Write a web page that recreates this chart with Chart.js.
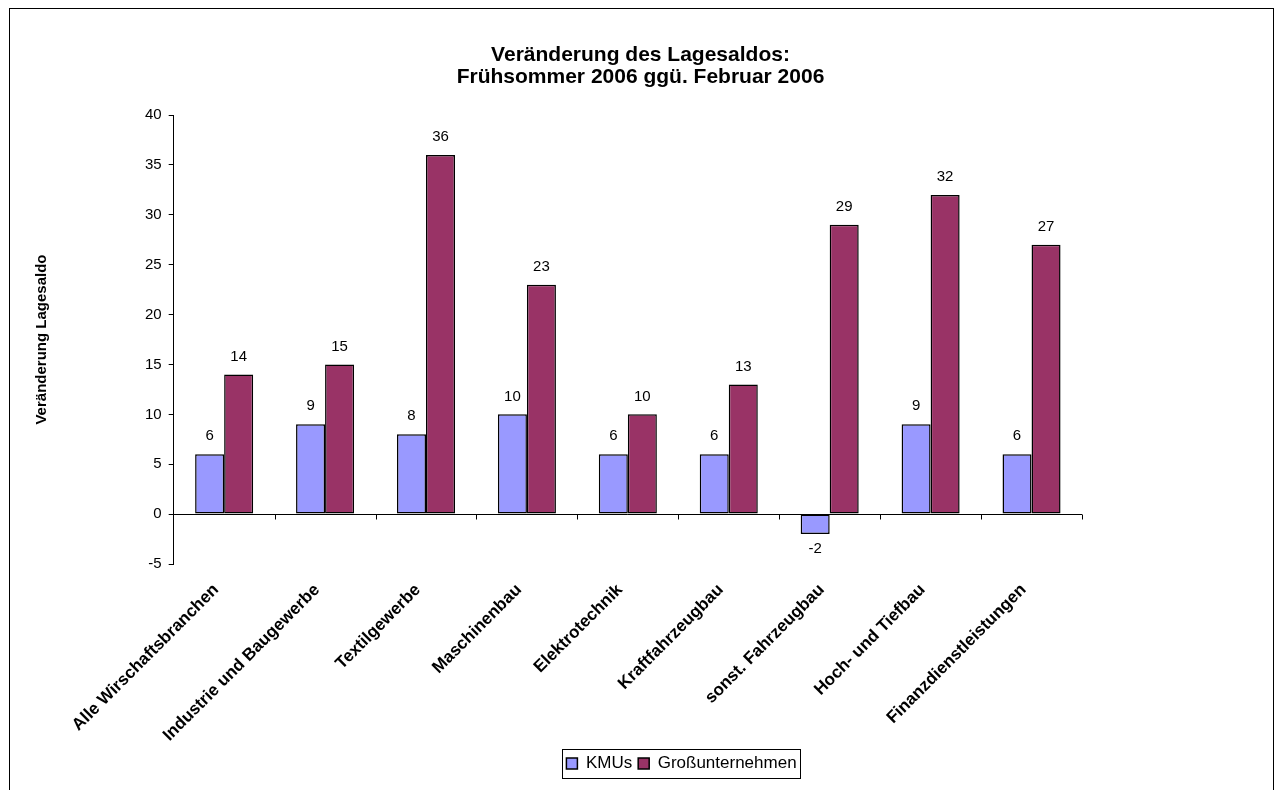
<!DOCTYPE html>
<html lang="de">
<head>
<meta charset="utf-8">
<title>Veränderung des Lagesaldos</title>
<script src="https://cdn.jsdelivr.net/npm/chart.js@4/dist/chart.umd.min.js"></script>
<style>
  html, body { margin:0; padding:0; background:#fff; overflow:hidden; }
  #wrap { position:relative; width:1281px; height:790px; }
  #rahmen { position:absolute; left:9px; top:8px; width:1265px; height:800px; border:1px solid #000; box-sizing:border-box; pointer-events:none; }
  canvas { position:absolute; left:0; top:0; }
</style>
</head>
<body>
<div id="wrap">
  <canvas id="chart" width="1281" height="790"></canvas>
  <div id="rahmen"></div>
</div>
<script>
/* ── Daten ─────────────────────────────────────────────── */
const branchen = [
  'Alle Wirschaftsbranchen', 'Industrie und Baugewerbe', 'Textilgewerbe',
  'Maschinenbau', 'Elektrotechnik', 'Kraftfahrzeugbau',
  'sonst. Fahrzeugbau', 'Hoch- und Tiefbau', 'Finanzdienstleistungen'
];
const kmus             = [6, 9, 8, 10, 6, 6, -2, 9, 6];
const grossunternehmen = [14, 15, 36, 23, 10, 13, 29, 32, 27];
const titelZeilen      = ['Veränderung des Lagesaldos:', 'Frühsommer 2006 ggü. Februar 2006'];

const FONT = "'Liberation Sans', Arial, sans-serif";

// Werte über den Säulen (unter der Säule bei negativen Werten)
const wertePlugin = {
  id: 'werte',
  afterDatasetsDraw(chart) {
    const ctx = chart.ctx;
    ctx.save();
    ctx.font = `15px ${FONT}`;
    ctx.fillStyle = '#000';
    ctx.textAlign = 'center';
    ctx.textBaseline = 'middle';
    chart.data.datasets.forEach((ds, di) => {
      chart.getDatasetMeta(di).data.forEach((bar, i) => {
        const v = ds.data[i];
        ctx.fillText(v, bar.x, v >= 0 ? bar.y - 18 : bar.y + 15);
      });
    });
    ctx.restore();
  }
};

// Rubrikenachse auf der Nulllinie, mit Teilstrichen
const nullAchsePlugin = {
  id: 'nullAchse',
  afterDatasetsDraw(chart) {
    const x = chart.scales.x, y = chart.scales.y;
    const y0 = Math.round(y.getPixelForValue(0)) + 0.5;
    const ctx = chart.ctx;
    ctx.save();
    ctx.strokeStyle = '#000';
    ctx.lineWidth = 1;
    ctx.beginPath();
    ctx.moveTo(x.left, y0); ctx.lineTo(x.right, y0);
    const n = branchen.length;
    for (let i = 1; i <= n; i++) {
      const px = Math.round(x.left + i * x.width / n) + 0.5;
      ctx.moveTo(px, y0); ctx.lineTo(px, y0 + 5);
    }
    ctx.stroke();
    ctx.restore();
  }
};

// Legende etwas nach rechts, mit Rahmen
const legendenRahmen = {
  id: 'legendenRahmen',
  afterLayout(chart) {
    if (!chart.legend) return;
    chart.legend.left += 41;
    chart.legend.right += 41;
  },
  afterDraw(chart) {
    const boxes = chart.legend?.legendHitBoxes;
    if (!boxes?.length) return;
    const l   = Math.min(...boxes.map(b => b.left)) - 4;
    const r   = Math.max(...boxes.map(b => b.left + b.width)) + 4;
    const t   = Math.min(...boxes.map(b => b.top)) - 6;
    const btm = Math.max(...boxes.map(b => b.top + b.height)) + 6;
    const ctx = chart.ctx;
    ctx.save();
    ctx.strokeStyle = '#000';
    ctx.lineWidth = 1;
    ctx.strokeRect(Math.round(l) + 0.5, Math.round(t) + 0.5, Math.round(r - l), Math.round(btm - t));
    ctx.restore();
  }
};

new Chart(document.getElementById('chart'), {
  type: 'bar',
  data: {
    labels: branchen,
    datasets: [
      { label: 'KMUs', data: kmus, backgroundColor: '#9999FF', borderColor: '#000', borderWidth: 1.5, borderSkipped: false },
      { label: 'Großunternehmen', data: grossunternehmen, backgroundColor: '#993366', borderColor: '#000', borderWidth: 1.5, borderSkipped: false },
    ]
  },
  options: {
    responsive: false,
    animation: false,
    devicePixelRatio: 1,
    datasets: { bar: { categoryPercentage: 0.575, barPercentage: 1 } },
    layout: { padding: { left: 33, right: 33, top: 44, bottom: 8 } },
    plugins: {
      title: {
        display: true, text: titelZeilen, color: '#000',
        font: { family: FONT, size: 21, weight: 'bold', lineHeight: 1.05 },
        padding: { top: 0, bottom: 27 }
      },
      legend: {
        position: 'bottom',
        labels: {
          color: '#000', boxWidth: 11, boxHeight: 11, padding: 6,
          font: { family: FONT, size: 17 }
        }
      },
      tooltip: { enabled: false }
    },
    scales: {
      x: {
        border: { display: false },
        grid: { display: false },
        afterFit: s => { s.height = 185; },
        ticks: {
          color: '#000', maxRotation: 45, minRotation: 45, autoSkip: false,
          padding: 8, labelOffset: -8,
          font: { family: FONT, size: 17, weight: 'bold' }
        }
      },
      y: {
        min: -5, max: 40,
        border: { display: true, color: '#000' },
        grid: { color: 'transparent', tickColor: '#000', tickLength: 5 },
        ticks: { stepSize: 5, color: '#000', padding: 7, font: { family: FONT, size: 15 } },
        title: {
          display: true, text: 'Veränderung Lagesaldo', color: '#000',
          font: { family: FONT, size: 15, weight: 'bold' },
          padding: { top: 0, bottom: 87 }
        }
      },
      // leerer Rand rechts neben der Zeichnungsfläche
      rand: {
        position: 'right',
        border: { display: false },
        grid: { display: false },
        ticks: { display: false },
        afterFit: s => { s.width = 166; }
      }
    }
  },
  plugins: [wertePlugin, nullAchsePlugin, legendenRahmen]
});
</script>
</body>
</html>
